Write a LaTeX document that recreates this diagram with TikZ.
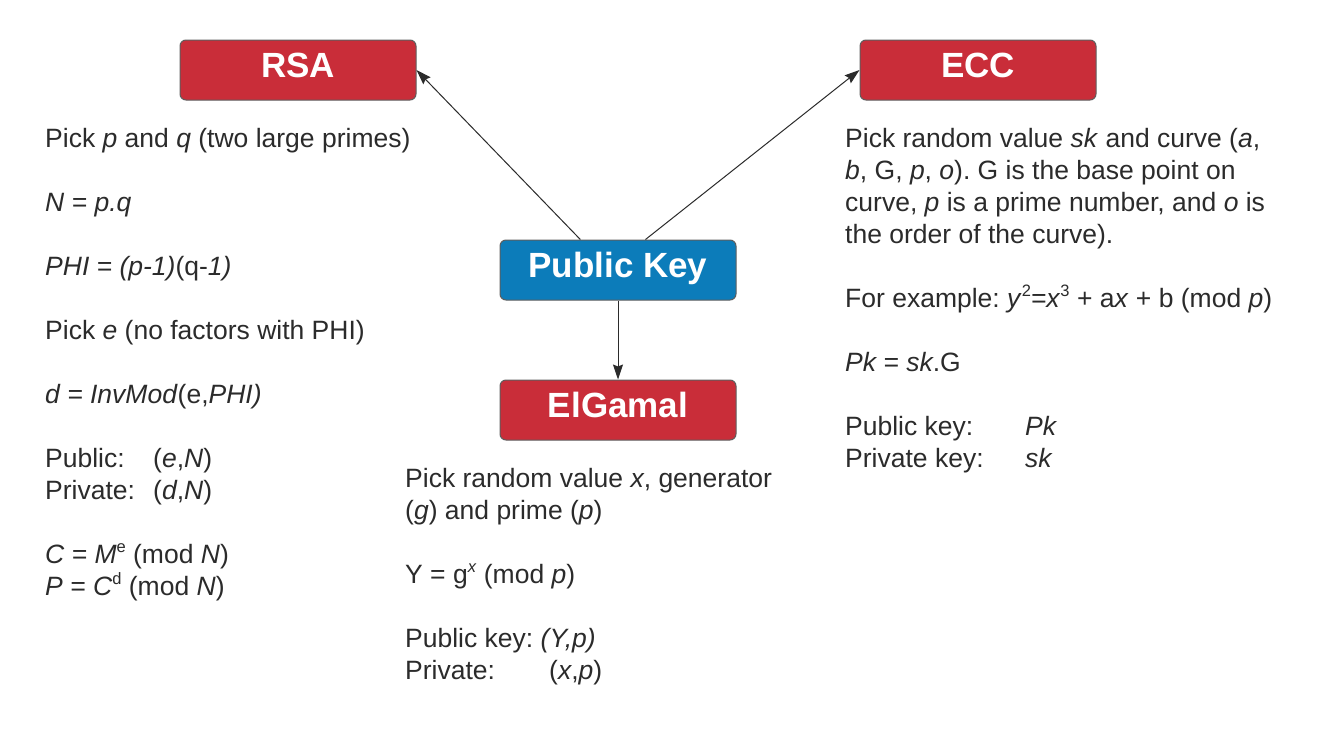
\documentclass[tikz,border=0pt]{standalone}
\usepackage{fontspec}
\setmainfont{Liberation Sans}
\usetikzlibrary{arrows.meta}
\definecolor{boxred}{HTML}{C92D39}
\definecolor{boxblue}{HTML}{0C7CBA}
\definecolor{boxline}{HTML}{5E5E5E}
\definecolor{txt}{HTML}{2B2B2B}
\newcommand{\spr}[1]{\raisebox{0.42em}{\fontsize{16.5}{16.5}\selectfont #1}}
\frenchspacing
\begin{document}
\begin{tikzpicture}[x=1pt,y=-1pt,
  titlebox/.style={draw=boxline, line width=1pt, rounded corners=6pt,
    minimum width=236pt, minimum height=60pt, inner sep=0pt,
    text height=25pt, text depth=10pt, text=white,
    font=\fontsize{35}{40}\selectfont\bfseries},
  body/.style={anchor=north west, inner sep=0pt, align=left, text=txt,
    font=\fontsize{26.5}{32}\selectfont\frenchspacing},
  conn/.style={draw=txt, line width=1pt, -{Stealth[length=15pt,width=10pt,inset=2pt]}}]
\useasboundingbox (0,0) rectangle (1320,734);
\fill[white] (0,0) rectangle (1320,734);

\node[titlebox, fill=boxred] (rsa) at (298,70) {RSA};
\node[titlebox, fill=boxred] (ecc) at (978,70) {ECC};
\node[titlebox, fill=boxblue] (pk) at (618,270) {Public Key};
\node[titlebox, fill=boxred] (elg) at (618,410) {ElGamal};

\draw[conn] (pk.141.7) -- (rsa.east);
\draw[conn] (pk.48) -- (ecc.west);
\draw[conn] (pk.south) -- (elg.north);

\node[body] (rsatext) at (45,124.6) {\strut Pick \textit{p} and \textit{q} (two large primes)\\[32pt]
\textit{N = p.q}\\[32pt]
\textit{PHI = (p-1)}(q-\textit{1)}\\[32pt]
Pick \textit{e} (no factors with PHI)\\[32pt]
\textit{d = InvMod}(e,\textit{PHI)}\\[32pt]
\makebox[108pt][l]{Public:}(\textit{e},\textit{N})\\
\makebox[108pt][l]{Private:}(\textit{d},\textit{N})\\[32pt]
\textit{C = M}\spr{e} (mod \textit{N})\\
\textit{P = C}\spr{d} (mod \textit{N})};

\node[body] (elgtext) at (405,464.6) {\strut Pick random value \textit{x}, generator\\
(\textit{g}) and prime (\textit{p})\\[32pt]
Y = g\spr{\textit{x}} (mod \textit{p})\\[32pt]
Public key: \textit{(Y,p)}\\
\makebox[144pt][l]{Private:}(\textit{x},\textit{p})};

\node[body] (ecctext) at (845,124.6) {\strut Pick random value \textit{sk} and curve (\textit{a},\\
\textit{b}, G, \textit{p}, \textit{o}). G is the base point on\\
curve, \textit{p} is a prime number, and \textit{o} is\\
the order of the curve).\\[32pt]
For example: \textit{y}\spr{2}\textit{=x}\spr{3} + a\textit{x} + b (mod \textit{p})\\[32pt]
\textit{Pk = sk}.G\\[32pt]
\makebox[180pt][l]{Public key:}\textit{Pk}\\
\makebox[180pt][l]{Private key:}\textit{sk}};
\end{tikzpicture}
\end{document}
